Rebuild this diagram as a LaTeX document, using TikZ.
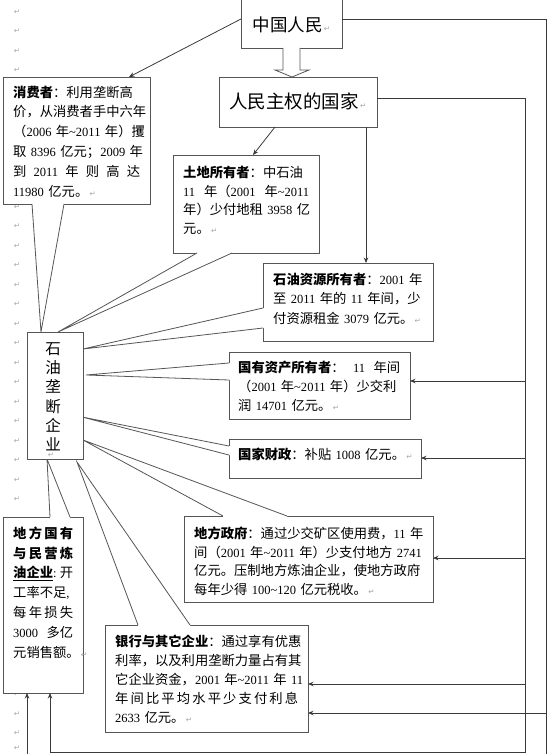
\documentclass[tikz,border=0pt]{standalone}
\usepackage{fontspec}
\setmainfont{Noto Sans CJK SC}
\newfontfamily\lat{Liberation Serif}
\newfontfamily\djv{DejaVu Sans}
\usetikzlibrary{arrows.meta}
\definecolor{bdc}{HTML}{555555}
\definecolor{lnc}{HTML}{3A3A3A}
\definecolor{pmc}{HTML}{A8A8A8}
\newcommand\dg[1]{{\lat\fontsize{12.5}{12.5}\selectfont #1}}
\newcommand\pmk{{\djv\fontsize{7.5}{7.5}\selectfont\color{pmc}\,↵}}
\newcommand\spread[2]{\makebox[#1][s]{#2}}
\newcommand\fr{\rule{0pt}{12pt}}
\begin{document}
\begin{tikzpicture}[x=1pt,y=-1pt,
  boxf/.style={draw=bdc, fill=white, line width=0.8pt, inner sep=0pt, outer sep=0pt, anchor=north west},
  bd/.style={draw=bdc, line width=0.8pt, line join=miter},
  conn/.style={draw=lnc, line width=0.8pt},
  arr/.style={conn, -{Stealth[length=5.5pt,width=4.5pt]}},
  txt/.style={anchor=north west, inner sep=0pt, align=left, font=\fontsize{13.3}{#1}\selectfont},
  pm/.style={inner sep=0pt, text=pmc, font=\djv\fontsize{7.5}{7.5}\selectfont}]
\useasboundingbox (0,0) rectangle (550,754);
\clip (0,0) rectangle (550,754);

% paragraph marks in the margin (only where no box covers them)
\foreach \k in {0,1,2,3,10,11,12,13,14,15,16,17,18,19,20,21,22,23,24,25,35,36,37} \node[pm] (m\k) at (17,{12+19.5*\k}) {↵};
\node[pm] (m38) at (17,748) {↵};

% top boxes
\node[boxf, anchor=center, minimum width=101pt, minimum height=58pt,
  font=\fontsize{17.5}{17.5}\selectfont, text height=25.3pt, text depth=0pt] (zg) at (291.5,19) {中国人民\pmk};
\node[boxf, anchor=center, minimum width=158pt, minimum height=50pt,
  font=\fontsize{18.5}{18.5}\selectfont, text height=14pt, text depth=0pt] (rm) at (298,102) {人民主权的国家\pmk};

% block arrow
\draw[bd, fill=white] (283,48) -- (283,70) -- (275,70) -- (292,77) -- (309,70) -- (300,70) -- (300,48);

% callout frames
\node[boxf, minimum width=147pt, minimum height=127pt] (cons) at (3,77) {};
\node[boxf, minimum width=146pt, minimum height=98pt] (land) at (173,155) {};
\node[boxf, minimum width=170pt, minimum height=78pt] (res) at (263,263) {};
\node[boxf, minimum width=181pt, minimum height=67pt] (ass) at (229,352) {};
\node[boxf, minimum width=192pt, minimum height=39pt] (fin) at (229,439) {};
\node[boxf, minimum width=249pt, minimum height=86pt] (gov) at (184,516) {};
\node[boxf, minimum width=80pt, minimum height=176pt] (refin) at (3,517) {};
\node[boxf, minimum width=203pt, minimum height=107pt] (bank) at (105,625) {};

% callout tips
\coordinate (tC) at (41,332);
\coordinate (tL) at (58,332);
\coordinate (tR) at (83,349);
\coordinate (tA) at (86,375);
\coordinate (tF) at (82,417);
\coordinate (tG) at (83,440);
\coordinate (tB) at (77,462);
\coordinate (tD) at (47,459);

% tails
\fill[white] (32,202.5) -- (64,202.5) -- (64,204) -- (tC) -- (32,204) -- cycle;
\draw[bd] (32,204) -- (tC) -- (64,204);
\fill[white] (197,251.5) -- (232,251.5) -- (232,253) -- (tL) -- (197,253) -- cycle;
\draw[bd] (197,253) -- (tL) -- (232,253);
\fill[white] (264.5,308) -- (264.5,328) -- (263,328) -- (tR) -- (263,308) -- cycle;
\draw[bd] (263,308) -- (tR) -- (263,328);
\fill[white] (230.5,363) -- (230.5,380) -- (229,380) -- (tA) -- (229,363) -- cycle;
\draw[bd] (229,363) -- (tA) -- (229,380);
\fill[white] (230.5,446) -- (230.5,455) -- (229,455) -- (tF) -- (229,446) -- cycle;
\draw[bd] (229,446) -- (tF) -- (229,455);
\fill[white] (223,517.5) -- (287,517.5) -- (287,516) -- (tG) -- (223,516) -- cycle;
\draw[bd] (223,516) -- (tG) -- (287,516);
\fill[white] (138,626.5) -- (190,626.5) -- (190,625) -- (tB) -- (138,625) -- cycle;
\draw[bd] (138,625) -- (tB) -- (190,625);
\fill[white] (50,518.5) -- (70,518.5) -- (70,517) -- (tD) -- (50,517) -- cycle;
\draw[bd] (50,517) -- (tD) -- (70,517);

% oil monopoly box
\node[boxf, minimum width=56pt, minimum height=127pt] (oil) at (27,332) {};
\node[anchor=north, inner sep=0pt, text width=30pt, align=center,
  font=\fontsize{15.5}{19.3}\selectfont] (oilT) at (53,339)
  {\rule{0pt}{15pt}石\\油\\垄\\断\\企\\业};
\node[pm] (oilM) at (51,455) {↵};

% texts
\node[txt=19.8, text width=150pt] (consT) at (13,85)
 {\fr{\bfseries 消费者}：利用垄断高\\
  价，从消费者手中六年\\
  （\dg{2006} 年\dg{\textasciitilde 2011} 年）攫\\
  取 \dg{8396} 亿元；\dg{2009} 年\\
  \spread{127pt}{到\hfill\dg{2011}\hfill 年\hfill 则\hfill 高\hfill 达}\\
  \dg{11980} 亿元。\pmk};
\node[txt=18.8, text width=150pt] (landT) at (183,165)
 {\fr{\bfseries 土地所有者}：中石油\\
  \spread{126pt}{\dg{11}\hfill 年（\dg{2001}\hfill 年\dg{\textasciitilde 2011}}\\
  年）少付地租 \dg{3958} 亿\\
  元。\pmk};
\node[txt=19.5, text width=175pt] (resT) at (273,272)
 {\fr{\bfseries 石油资源所有者}：\dg{2001} 年\\
  至 \dg{2011} 年的 \dg{11} 年间，少\\
  付资源租金 \dg{3079} 亿元。\pmk};
\node[txt=19, text width=185pt] (assT) at (238,360)
 {\fr\spread{162pt}{{\bfseries 国有资产所有者}：\hfill\dg{11}\hfill 年间}\\
  （\dg{2001} 年\dg{\textasciitilde 2011} 年）少交利\\
  润 \dg{14701} 亿元。\pmk};
\node[txt=19, text width=185pt] (finT) at (238,447)
 {\fr{\bfseries 国家财政}：补贴 \dg{1008} 亿元。\pmk};
\node[txt=18.8, text width=250pt] (govT) at (194,526)
 {\fr{\bfseries 地方政府}：通过少交矿区使用费，\dg{11} 年\\
  间（\dg{2001} 年\dg{\textasciitilde 2011} 年）少支付地方 \dg{2741}\\
  亿元。压制地方炼油企业，使地方政府\\
  每年少得 \dg{100\textasciitilde 120} 亿元税收。\pmk};
\node[txt=19.8, text width=85pt] (refT) at (13,526)
 {\fr\spread{60pt}{\bfseries 地\hfill 方\hfill 国\hfill 有}\\
  \spread{60pt}{\bfseries 与\hfill 民\hfill 营\hfill 炼}\\
  \spread{60pt}{\underline{\bfseries 油企业}\dg{:}\hfill 开}\\
  工率不足\dg{,}\\
  \spread{60pt}{每\hfill 年\hfill 损\hfill 失}\\
  \spread{60pt}{\dg{3000}\hfill 多亿}\\
  元销售额。\pmk};
\node[txt=19, text width=205pt] (bankT) at (115,634)
 {\fr{\bfseries 银行与其它企业}：通过享有优惠\\
  利率，以及利用垄断力量占有其\\
  它企业资金，\dg{2001} 年\dg{\textasciitilde 2011} 年 \dg{11}\\
  \spread{183pt}{年\hfill 间\hfill 比\hfill 平\hfill 均\hfill 水\hfill 平\hfill 少\hfill 支\hfill 付\hfill 利\hfill 息}\\
  \dg{2633} 亿元。\pmk};

% connectors from the top
\draw[arr] (zg.west) -- ([xshift=126pt]cons.north west);
\draw[arr] ([xshift=-23pt]rm.south) -- ([xshift=80pt]land.north west);
\path ([xshift=68pt]rm.south) coordinate (p1);
\draw[arr] (p1) -- (p1 |- res.north);

% outer line
\coordinate (oT) at (546,19);
\coordinate (oB) at (546,775);
\coordinate (oL) at (27,775);
\draw[arr] (zg.east) -- (oT) -- (oB) -- (oL) -- (oL |- refin.south);
\coordinate (b5) at (546,713);
\draw[arr] (b5) -- (b5 -| bank.east);

% inner line
\coordinate (iT) at (525,98);
\coordinate (iB) at (525,752);
\coordinate (iL) at (50,752);
\draw[arr] ([yshift=4pt]rm.east) -- (iT) -- (iB) -- (iL) -- (iL |- refin.south);
\coordinate (b1) at (525,381);
\coordinate (b2) at (525,458);
\coordinate (b3) at (525,558);
\coordinate (b4) at (525,684);
\draw[arr] (b1) -- (b1 -| ass.east);
\draw[arr] (b2) -- (b2 -| fin.east);
\draw[arr] (b3) -- (b3 -| gov.east);
\draw[arr] (b4) -- (b4 -| bank.east);
\end{tikzpicture}
\end{document}
